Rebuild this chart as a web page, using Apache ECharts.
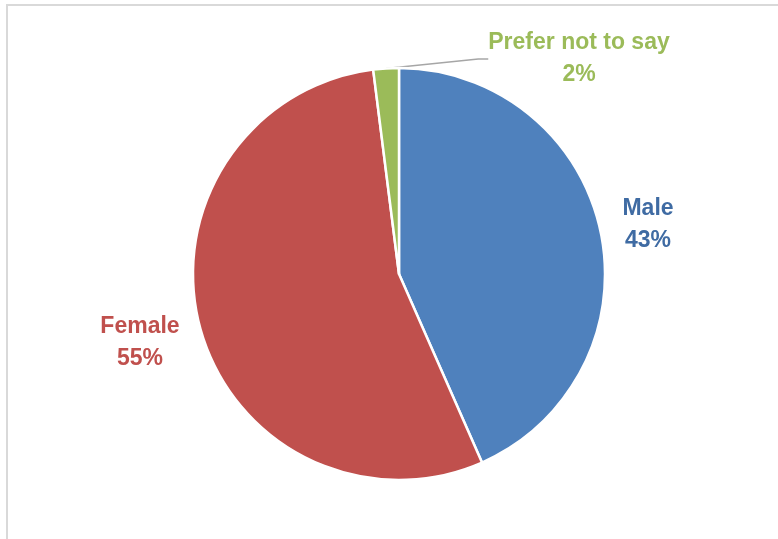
<!DOCTYPE html>
<html><head><meta charset="utf-8">
<script src="https://cdn.jsdelivr.net/npm/echarts@6/dist/echarts.min.js"></script>
<style>html,body{margin:0;padding:0;background:#fff}#c{width:778px;height:539px}</style>
</head><body><div id="c"></div>
<script>
const categories = ['Male', 'Female', 'Prefer not to say'];
const values = [43.4, 54.6, 2.0];
const sliceColors = ['#4F81BD', '#C0504D', '#9BBB59'];
const labelColors = ['#3F6BA3', '#C0504D', '#9BBB59'];
const labelPos = [[648, 225], [140, 343], [579, 59]];

const chart = echarts.init(document.getElementById('c'), null, {renderer: 'canvas'});
chart.setOption({
  backgroundColor: '#fff',
  animation: false,
  graphic: [{type: 'rect', shape: {x: 7, y: 5, width: 800, height: 600},
    style: {fill: 'none', stroke: '#D9D9D9', lineWidth: 2}, z: -10}],
  series: [{
    type: 'pie',
    center: [399, 274],
    radius: 206,
    startAngle: 90,
    clockwise: true,
    data: categories.map((c, i) => ({name: c, value: values[i],
      itemStyle: {color: sliceColors[i]},
      label: {color: labelColors[i]},
      labelLine: {show: i === 2}})),
    itemStyle: {borderColor: '#fff', borderWidth: 2.5},
    label: {
      show: true,
      formatter: p => p.name + '\n' + Math.round(p.percent) + '%',
      fontFamily: 'Liberation Sans, Arial, sans-serif',
      fontWeight: 'bold',
      fontSize: 23,
      lineHeight: 32,
      align: 'center'
    },
    labelLine: {lineStyle: {color: '#A6A6A6', width: 1.5}, length: 10, length2: 10, smooth: false},
    labelLayout: function (p) {
      const pos = labelPos[p.dataIndex];
      return {x: pos[0], y: pos[1], align: 'center', verticalAlign: 'middle'};
    }
  }]
});
</script></body></html>
